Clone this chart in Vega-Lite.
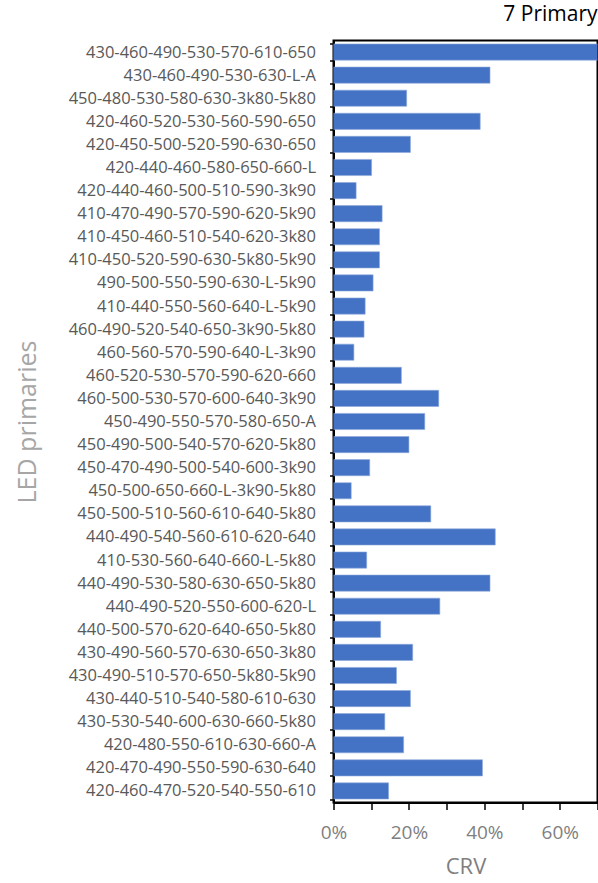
{
  "$schema": "https://vega.github.io/schema/vega-lite/v6.json",
  "autosize": {"type": "none"},
  "padding": {"left": 333.5, "top": 40.5, "right": 0.5, "bottom": 80},
  "width": 264,
  "height": 762,
  "title": {"text": "7 Primary", "anchor": "end", "frame": "group", "fontSize": 21, "font": "Open Sans", "fontWeight": "normal", "color": "#000000", "offset": 8},
  "data": {"values": [
    {"LED": "430-460-490-530-570-610-650", "CRV": 70.5},
    {"LED": "430-460-490-530-630-L-A", "CRV": 41.5},
    {"LED": "450-480-530-580-630-3k80-5k80", "CRV": 19.4},
    {"LED": "420-460-520-530-560-590-650", "CRV": 38.9},
    {"LED": "420-450-500-520-590-630-650", "CRV": 20.4},
    {"LED": "420-440-460-580-650-660-L", "CRV": 10.1},
    {"LED": "420-440-460-500-510-590-3k90", "CRV": 6.0},
    {"LED": "410-470-490-570-590-620-5k90", "CRV": 12.9},
    {"LED": "410-450-460-510-540-620-3k80", "CRV": 12.2},
    {"LED": "410-450-520-590-630-5k80-5k90", "CRV": 12.2},
    {"LED": "490-500-550-590-630-L-5k90", "CRV": 10.5},
    {"LED": "410-440-550-560-640-L-5k90", "CRV": 8.4},
    {"LED": "460-490-520-540-650-3k90-5k80", "CRV": 8.1},
    {"LED": "460-560-570-590-640-L-3k90", "CRV": 5.4},
    {"LED": "460-520-530-570-590-620-660", "CRV": 18.0},
    {"LED": "460-500-530-570-600-640-3k90", "CRV": 27.9},
    {"LED": "450-490-550-570-580-650-A", "CRV": 24.2},
    {"LED": "450-490-500-540-570-620-5k80", "CRV": 20.0},
    {"LED": "450-470-490-500-540-600-3k90", "CRV": 9.6},
    {"LED": "450-500-650-660-L-3k90-5k80", "CRV": 4.7},
    {"LED": "450-500-510-560-610-640-5k80", "CRV": 25.8},
    {"LED": "440-490-540-560-610-620-640", "CRV": 42.9},
    {"LED": "410-530-560-640-660-L-5k80", "CRV": 8.8},
    {"LED": "440-490-530-580-630-650-5k80", "CRV": 41.5},
    {"LED": "440-490-520-550-600-620-L", "CRV": 28.2},
    {"LED": "440-500-570-620-640-650-5k80", "CRV": 12.5},
    {"LED": "430-490-560-570-630-650-3k80", "CRV": 21.0},
    {"LED": "430-490-510-570-650-5k80-5k90", "CRV": 16.7},
    {"LED": "430-440-510-540-580-610-630", "CRV": 20.4},
    {"LED": "430-530-540-600-630-660-5k80", "CRV": 13.6},
    {"LED": "420-480-550-610-630-660-A", "CRV": 18.6},
    {"LED": "420-470-490-550-590-630-640", "CRV": 39.5},
    {"LED": "420-460-470-520-540-550-610", "CRV": 14.6}
  ]},
  "mark": {"type": "bar", "color": "#4472C4", "clip": true, "stroke": "#8FAADC", "strokeWidth": 0.6},
  "encoding": {
    "y": {
      "field": "LED", "type": "nominal", "sort": null,
      "scale": {"paddingInner": 0.3, "paddingOuter": 0.15},
      "axis": {
        "title": "LED primaries", "titleFontSize": 25, "titleColor": "#a6a6a6", "titleFontWeight": "normal", "titlePadding": 93,
        "labelFontSize": 16.5, "labelColor": "#595959", "labelPadding": 14, "labelLimit": 400,
        "tickSize": 4, "tickColor": "#000000", "tickBand": "extent", "tickWidth": 1.5,
        "domainColor": "#000000", "domainWidth": 2
      }
    },
    "x": {
      "field": "CRV", "type": "quantitative",
      "scale": {"domain": [0, 70], "nice": false},
      "axis": {
        "title": "CRV", "titleFontSize": 22, "titleColor": "#7f7f7f", "titleFontWeight": "normal", "titlePadding": 14,
        "values": [0, 10, 20, 30, 40, 50, 60, 70],
        "labelExpr": "datum.value % 20 == 0 ? datum.value + '%' : ''",
        "labelFontSize": 19, "labelColor": "#7f7f7f", "labelPadding": 14, "labelFlush": false,
        "tickSize": 7, "tickColor": "#000000", "tickWidth": 1.5,
        "domainColor": "#000000", "domainWidth": 2, "grid": false
      }
    }
  },
  "config": {
    "font": "Open Sans",
    "view": {"stroke": "#000000", "strokeWidth": 2}
  }
}
